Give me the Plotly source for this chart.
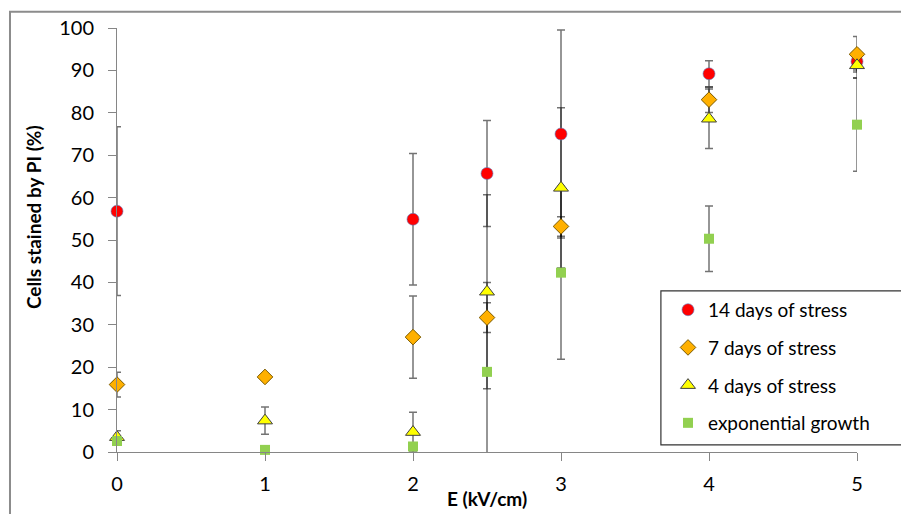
import plotly.graph_objects as go

# ---- data ----
names = ["14 days of stress", "7 days of stress", "4 days of stress", "exponential growth"]

x14 = [0, 2, 2.5, 3, 4, 5]
y14 = [56.8, 54.9, 65.7, 75.0, 89.2, 92.1]
e14 = [19.9, 15.5, 12.5, 24.5, 3.1, 2.0]

x7 = [0, 1, 2, 2.5, 3, 4, 5]
y7 = [15.9, 17.7, 27.1, 31.7, 53.2, 83.1, 93.8]
e7 = [2.9, 0.8, 9.7, 3.5, 2.3, 3.0, 4.2]

x4 = [0, 1, 2, 2.5, 3, 4, 5]
y4 = [3.5, 7.4, 4.7, 37.8, 62.3, 78.6, 91.2]
e4 = [1.5, 3.2, 4.7, 22.9, 18.9, 7.0, 3.0]

xexp = [0, 1, 2, 2.5, 3, 4, 5]
yexp = [2.6, 0.5, 1.3, 18.9, 42.3, 50.3, 77.2]
eexp = [0.5, 0.3, 0.5, 21.1, 20.4, 7.7, 11.0]

x_ticks = [0, 1, 2, 3, 4, 5]
y_ticks = [0, 10, 20, 30, 40, 50, 60, 70, 80, 90, 100]

series = [
    (names[0], x14, y14, e14, dict(symbol="circle", size=12, color="#FF0000",
                                   line=dict(color="#5B7FC0", width=0.6))),
    (names[1], x7, y7, e7, dict(symbol="diamond", size=12, color="#FFB000",
                                line=dict(color="#7A5A00", width=1))),
    (names[2], x4, y4, e4, dict(symbol="triangle-up", size=13, color="#FFFF00",
                                line=dict(color="#404040", width=1))),
    (names[3], xexp, yexp, eexp, dict(symbol="square", size=10, color="#92D050",
                                      line=dict(width=0))),
]

FONT = "Lato, Calibri, 'Open Sans', sans-serif"
fig = go.Figure()

# error bars (clipped to the plot area)
for name, xs, ys, es, mk in series:
    fig.add_trace(go.Scatter(
        x=xs, y=ys, mode="markers", showlegend=False, hoverinfo="skip",
        marker=dict(size=1, opacity=0),
        error_y=dict(type="data", array=es, visible=True,
                     color="rgba(0,0,0,0.55)", thickness=1.5, width=4),
        cliponaxis=True,
    ))

# markers (not clipped)
for i, (name, xs, ys, es, mk) in enumerate(series):
    fig.add_trace(go.Scatter(
        x=xs, y=ys, mode="markers", name=name, marker=mk,
        cliponaxis=False, legendgroup=f"g{i}",
    ))

fig.update_layout(
    width=901, height=514,
    margin=dict(l=117, r=44, t=28, b=62),
    paper_bgcolor="white", plot_bgcolor="white",
    font=dict(family=FONT, size=20, color="#000000"),
    showlegend=True,
    legend=dict(
        x=0.7446, y=0.38, xanchor="left", yanchor="top",
        borderwidth=0, bgcolor="rgba(0,0,0,0)",
        font=dict(family=FONT, size=19, color="#000000"),
        tracegroupgap=10, traceorder="grouped", itemwidth=30,
    ),
    xaxis=dict(
        range=[0, 5], tickvals=x_ticks, ticktext=[str(v) for v in x_ticks],
        showgrid=False, zeroline=False, showline=True,
        linecolor="#868686", linewidth=1, ticks="outside", ticklen=8,
        tickcolor="#868686", tickfont=dict(family=FONT, size=20),
        ticklabelstandoff=6,
    ),
    yaxis=dict(
        range=[0, 100], tickvals=y_ticks, ticktext=[str(v) for v in y_ticks],
        showgrid=False, zeroline=False, showline=True,
        linecolor="#868686", linewidth=1, ticks="outside", ticklen=8,
        tickcolor="#868686", tickfont=dict(family=FONT, size=20),
        ticklabelstandoff=10,
    ),
    shapes=[
        dict(type="rect", xref="paper", yref="paper",
             x0=-0.1446, x1=1.07, y0=-0.2, y1=1.0385,
             line=dict(color="#8C8C8C", width=2), layer="below"),
        # legend frame
        dict(type="rect", xref="paper", yref="paper",
             x0=0.735, x1=1.2, y0=0.0166, y1=0.38,
             line=dict(color="#333333", width=1.2), fillcolor="white",
             layer="below"),
    ],
    annotations=[
        dict(text="<b>E (kV/cm)</b>", xref="paper", yref="paper",
             x=0.5, y=-0.11, xanchor="center", yanchor="middle",
             showarrow=False, font=dict(family=FONT, size=19)),
        dict(text="<b>Cells stained by PI (%)</b>", xref="paper", yref="paper",
             x=-0.1135, y=0.554, xanchor="center", yanchor="middle",
             textangle=-90, showarrow=False, font=dict(family=FONT, size=19)),
    ],
)

fig.write_html("out.html", config={"displayModeBar": False},
               post_script="document.body.style.margin='0px';")
